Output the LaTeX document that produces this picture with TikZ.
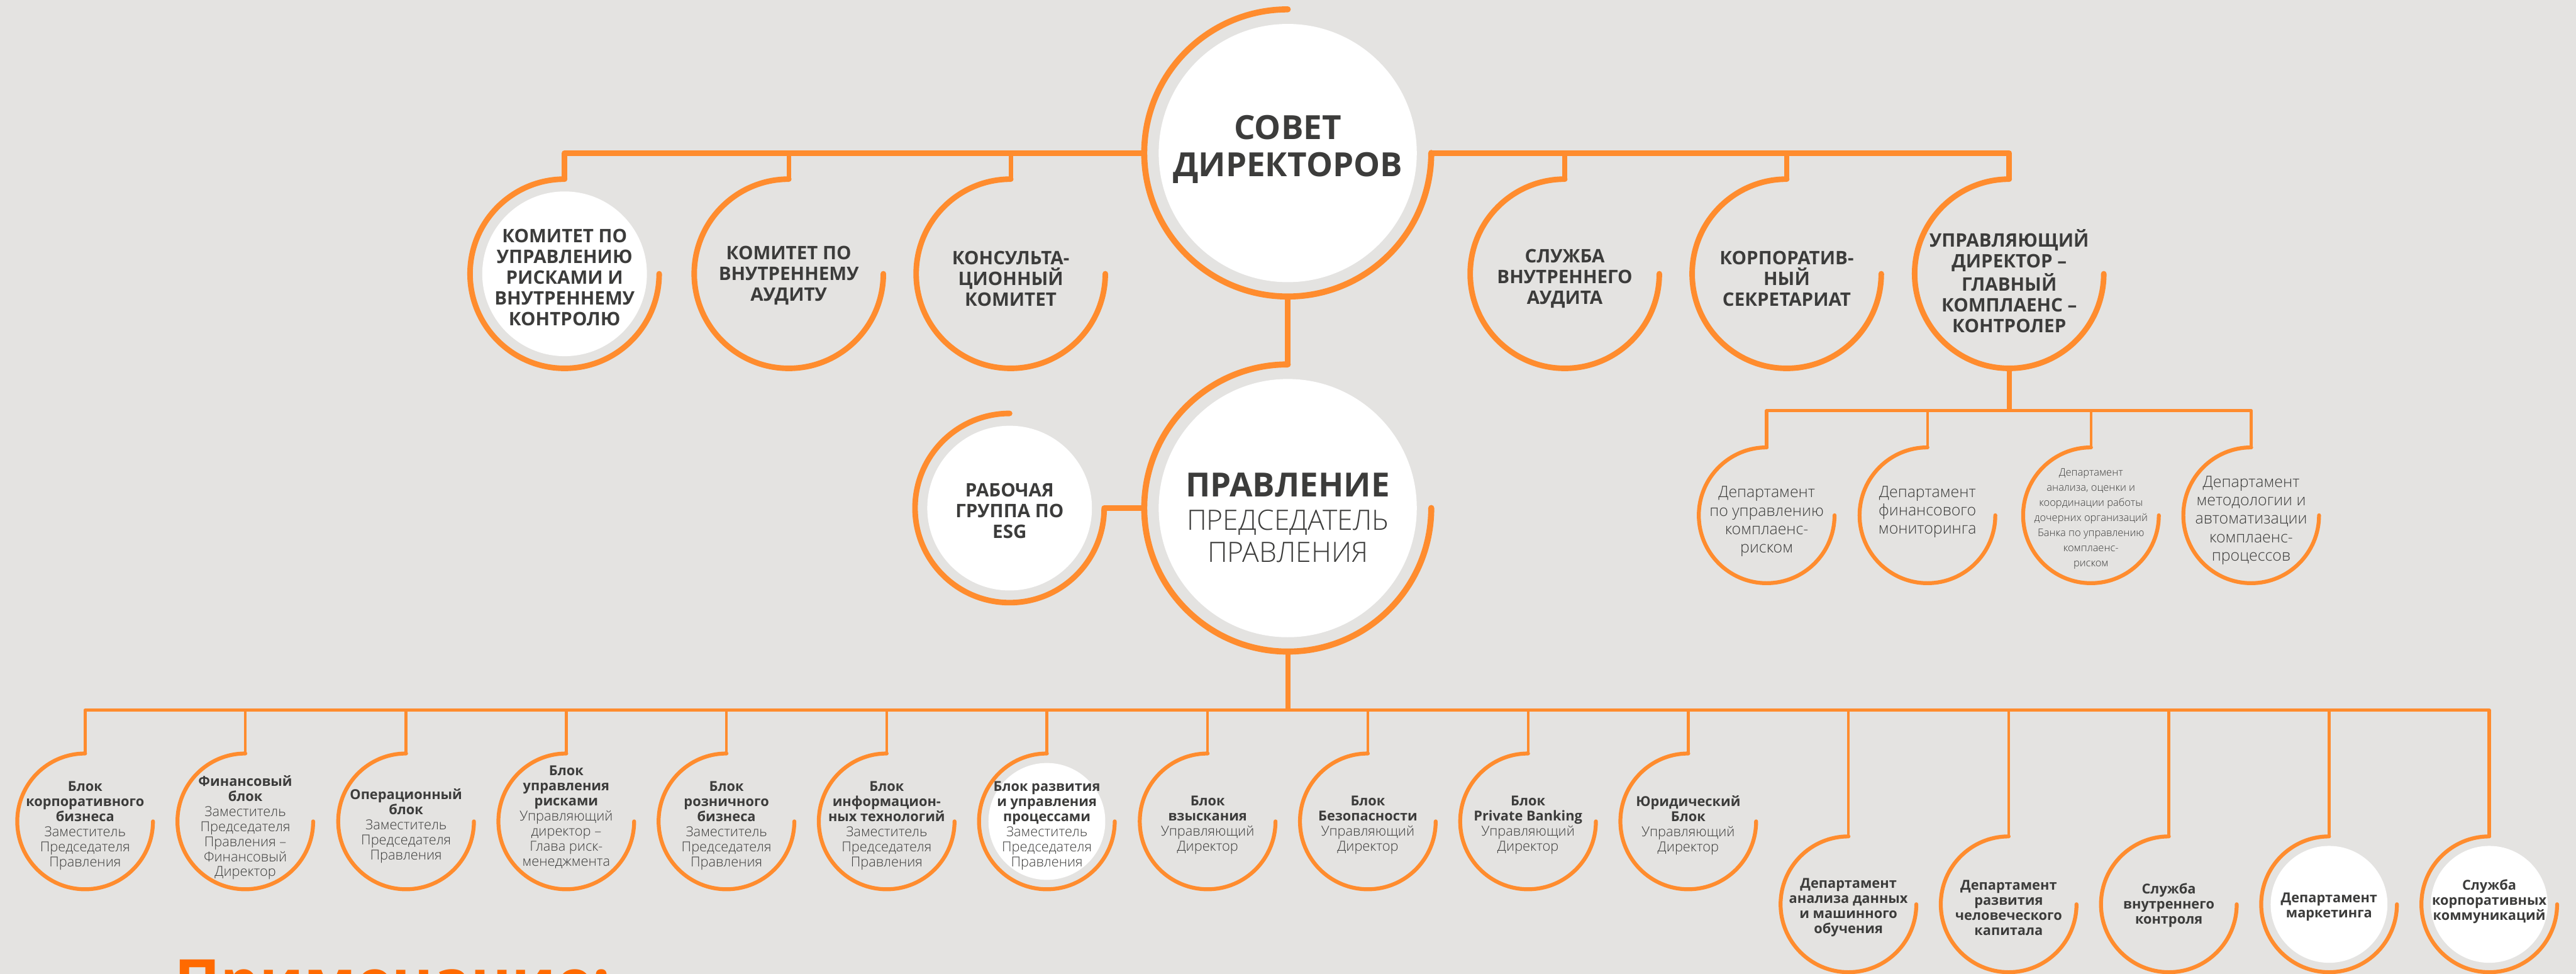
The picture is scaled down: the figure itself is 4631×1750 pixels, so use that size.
\documentclass[tikz,border=0pt]{standalone}
\usepackage{fontspec}
\setmainfont{Open Sans}
\IfFontExistsTF{Open Sans Light}
  {\newfontfamily\lightfont{Open Sans Light}}
  {\newfontfamily\lightfont{Open Sans}}
\usetikzlibrary{calc}
\definecolor{bg}{RGB}{228,227,225}
\definecolor{org}{RGB}{255,140,46}
\definecolor{txt}{RGB}{60,60,59}
\definecolor{note}{RGB}{255,106,0}
\tikzset{
  ringL/.style={draw=org, line width=3.1pt, line cap=round},
  ringM/.style={draw=org, line width=2.85pt, line cap=round},
  ringS/.style={draw=org, line width=2pt, line cap=round},
  connT/.style={draw=org, line width=2.85pt, line join=round},
  connD/.style={draw=org, line width=2.3pt},
  connV/.style={draw=org, line width=2.6pt},
  connB/.style={draw=org, line width=1.7pt, line join=round},
  connS/.style={draw=org, line width=1.4pt},
  anc/.style={circle, inner sep=0pt, outer sep=0pt},
  lbl/.style={align=center, text=txt, inner sep=0pt},
  bigtxt/.style={lbl, font=\fontsize{17}{19}\selectfont\bfseries},
  toptxt/.style={lbl, font=\fontsize{9.5}{10.6}\selectfont\bfseries},
  deptxt/.style={lbl, font=\lightfont\fontsize{8}{9.4}\selectfont},
  smalltxt/.style={lbl, font=\lightfont\fontsize{5.3}{7.7}\selectfont},
  blocktxt/.style={lbl, font=\lightfont\fontsize{7}{7.7}\selectfont},
  rowtxt/.style={lbl, font=\fontsize{7}{7.7}\selectfont\bfseries},
}
\newcommand\B[1]{{\normalfont\bfseries #1}}
% #1 name, #2 position, #3 ring radius, #4 ring style, #5 inner white radius (0 = none)
\newcommand\ringnode[5]{%
  \node[anc, minimum size=#3*0.02cm] (#1) at #2 {};
  \ifnum#5>0 \fill[white] (#1.center) circle[radius=#5];\fi
  \draw[#4] (#1.north) arc[start angle=90, end angle=360, radius=#3];
}
\begin{document}
\begin{tikzpicture}[x=0.01cm, y=0.01cm]
\clip (0,0) rectangle (4631,-1750);
\fill[bg] (0,0) rectangle (4631,-1750);

% ---------- top level ----------
\ringnode{sovet}{(2315,-275)}{258}{ringL}{232}
\node[bigtxt] (sovett) at (2315,-268) {СОВЕТ\\ДИРЕКТОРОВ};

\ringnode{kom1}{(1015,-492)}{170}{ringM}{148}
\ringnode{kom2}{(1418,-492)}{170}{ringM}{0}
\ringnode{kom3}{(1817,-492)}{170}{ringM}{0}
\ringnode{sl}{(2813,-492)}{170}{ringM}{0}
\ringnode{ks}{(3212,-492)}{170}{ringM}{0}
\ringnode{upr}{(3612,-492)}{170}{ringM}{0}

\node[toptxt] (kom1t) at (1015,-499) {КОМИТЕТ ПО\\УПРАВЛЕНИЮ\\РИСКАМИ И\\ВНУТРЕННЕМУ\\КОНТРОЛЮ};
\node[toptxt] (kom2t) at (1418,-495) {КОМИТЕТ ПО\\ВНУТРЕННЕМУ\\АУДИТУ};
\node[toptxt] (kom3t) at (1817,-501) {КОНСУЛЬТА-\\ЦИОННЫЙ\\КОМИТЕТ};
\node[toptxt] (slt) at (2813,-501) {СЛУЖБА\\ВНУТРЕННЕГО\\АУДИТА};
\node[toptxt] (kst) at (3212,-501) {КОРПОРАТИВ-\\НЫЙ\\СЕКРЕТАРИАТ};
\node[toptxt] (uprt) at (3612,-505) {УПРАВЛЯЮЩИЙ\\ДИРЕКТОР –\\ГЛАВНЫЙ\\КОМПЛАЕНС –\\КОНТРОЛЕР};

\draw[connT] (kom1.north) -- (kom1.north |- sovet.west) -- (sovet.west);
\draw[connD] (kom2.north) -- (kom2.north |- sovet.west);
\draw[connD] (kom3.north) -- (kom3.north |- sovet.west);
\draw[connT] (sovet.east) -- (upr.north |- sovet.east) -- (upr.north);
\draw[connD] (sl.north) -- (sl.north |- sovet.east);
\draw[connD] (ks.north) -- (ks.north |- sovet.east);

% ---------- management board ----------
\ringnode{prav}{(2315,-913)}{258}{ringL}{232}
\node[lbl, anchor=base, font=\fontsize{17}{19}\selectfont\bfseries] (pravt) at (2315,-893) {ПРАВЛЕНИЕ};
\node[lbl, anchor=base, font=\lightfont\fontsize{14.3}{16.5}\selectfont] (pravt2) at (2315,-952) {ПРЕДСЕДАТЕЛЬ};
\node[lbl, anchor=base, font=\lightfont\fontsize{14.3}{16.5}\selectfont] (pravt3) at (2315,-1010) {ПРАВЛЕНИЯ};
\ringnode{esg}{(1815,-913)}{170}{ringM}{148}
\node[toptxt] (esgt) at (1815,-918) {РАБОЧАЯ\\ГРУППА ПО\\ESG};

\draw[connT] (sovet.south) -- (prav.north);
\draw[connT] (esg.east) -- (prav.west);

% ---------- compliance ----------
\ringnode{d1}{(3176,-926)}{122}{ringS}{0}
\ringnode{d2}{(3465,-926)}{122}{ringS}{0}
\ringnode{d3}{(3759,-926)}{122}{ringS}{0}
\ringnode{d4}{(4047,-926)}{122}{ringS}{0}
\coordinate (busC) at (3612,-738);
\draw[connV] (upr.south) -- (busC);
\draw[connB] (d1.north) -- (d1.north |- busC) -- (d4.north |- busC) -- (d4.north);
\draw[connS] (d2.north) -- (d2.north |- busC);
\draw[connS] (d3.north) -- (d3.north |- busC);
\node[deptxt] (d1t) at (3176,-937) {Департамент\\по управлению\\комплаенс-\\риском};
\node[deptxt] (d2t) at (3465,-920) {Департамент\\финансового\\мониторинга};
\node[smalltxt] (d3t) at (3759,-932) {Департамент\\анализа, оценки и\\координации работы\\дочерних организаций\\Банка по управлению\\комплаенс-\\риском};
\node[deptxt] (d4t) at (4047,-935) {Департамент\\методологии и\\автоматизации\\комплаенс-\\процессов};

% ---------- blocks ----------
\ringnode{b1}{(153,-1476)}{122}{ringS}{0}
\ringnode{b2}{(441,-1476)}{122}{ringS}{0}
\ringnode{b3}{(730,-1476)}{122}{ringS}{0}
\ringnode{b4}{(1018,-1476)}{122}{ringS}{0}
\ringnode{b5}{(1306,-1476)}{122}{ringS}{0}
\ringnode{b6}{(1594,-1476)}{122}{ringS}{0}
\ringnode{b7}{(1882,-1476)}{122}{ringS}{105}
\ringnode{b8}{(2171,-1476)}{122}{ringS}{0}
\ringnode{b9}{(2459,-1476)}{122}{ringS}{0}
\ringnode{b10}{(2747,-1476)}{122}{ringS}{0}
\ringnode{b11}{(3035,-1476)}{122}{ringS}{0}
\ringnode{c1}{(3323,-1625)}{122}{ringS}{0}
\ringnode{c2}{(3611,-1625)}{122}{ringS}{0}
\ringnode{c3}{(3899,-1625)}{122}{ringS}{0}
\ringnode{c4}{(4187,-1625)}{122}{ringS}{105}
\ringnode{c5}{(4475,-1625)}{122}{ringS}{105}

\coordinate (busB) at (2315,-1276);
\draw[connV] (prav.south) -- (busB);
\draw[connB] (b1.north) -- (b1.north |- busB) -- (c5.north |- busB) -- (c5.north);
\foreach \n in {b2,b3,b4,b5,b6,b7,b8,b9,b10,b11,c1,c2,c3,c4}
  \draw[connS] (\n.north) -- (\n.north |- busB);

\node[blocktxt] (b1t) at (153,-1484) {\B{Блок}\\\B{корпоративного}\\\B{бизнеса}\\Заместитель\\Председателя\\Правления};
\node[blocktxt] (b2t) at (441,-1487) {\B{Финансовый}\\\B{блок}\\Заместитель\\Председателя\\Правления –\\Финансовый\\Директор};
\node[blocktxt] (b3t) at (730,-1484) {\B{Операционный}\\\B{блок}\\Заместитель\\Председателя\\Правления};
\node[blocktxt] (b4t) at (1018,-1468) {\B{Блок}\\\B{управления}\\\B{рисками}\\Управляющий\\директор –\\Глава риск-\\менеджмента};
\node[blocktxt] (b5t) at (1306,-1484) {\B{Блок}\\\B{розничного}\\\B{бизнеса}\\Заместитель\\Председателя\\Правления};
\node[blocktxt] (b6t) at (1594,-1484) {\B{Блок}\\\B{информацион-}\\\B{ных технологий}\\Заместитель\\Председателя\\Правления};
\node[blocktxt] (b7t) at (1882,-1484) {\B{Блок развития}\\\B{и управления}\\\B{процессами}\\Заместитель\\Председателя\\Правления};
\node[blocktxt] (b8t) at (2171,-1483) {\B{Блок}\\\B{взыскания}\\Управляющий\\Директор};
\node[blocktxt] (b9t) at (2459,-1483) {\B{Блок}\\\B{Безопасности}\\Управляющий\\Директор};
\node[blocktxt] (b10t) at (2747,-1483) {\B{Блок}\\\B{Private Banking}\\Управляющий\\Директор};
\node[blocktxt] (b11t) at (3035,-1483) {\B{Юридический}\\\B{Блок}\\Управляющий\\Директор};

\node[rowtxt] (c1t) at (3323,-1631) {Департамент\\анализа данных\\и машинного\\обучения};
\node[rowtxt] (c2t) at (3611,-1631) {Департамент\\развития\\человеческого\\капитала};
\node[rowtxt] (c3t) at (3899,-1627) {Служба\\внутреннего\\контроля};
\node[rowtxt] (c4t) at (4187,-1630) {Департамент\\маркетинга};
\node[rowtxt] (c5t) at (4475,-1620) {Служба\\корпоративных\\коммуникаций};

% ---------- note (cut by the lower edge, as in the original) ----------
\node[anchor=base west, inner sep=0pt, text=note, font=\fontsize{31.6}{34}\selectfont\bfseries] (note) at (313,-1804) {Примечание:};
\end{tikzpicture}
\end{document}
